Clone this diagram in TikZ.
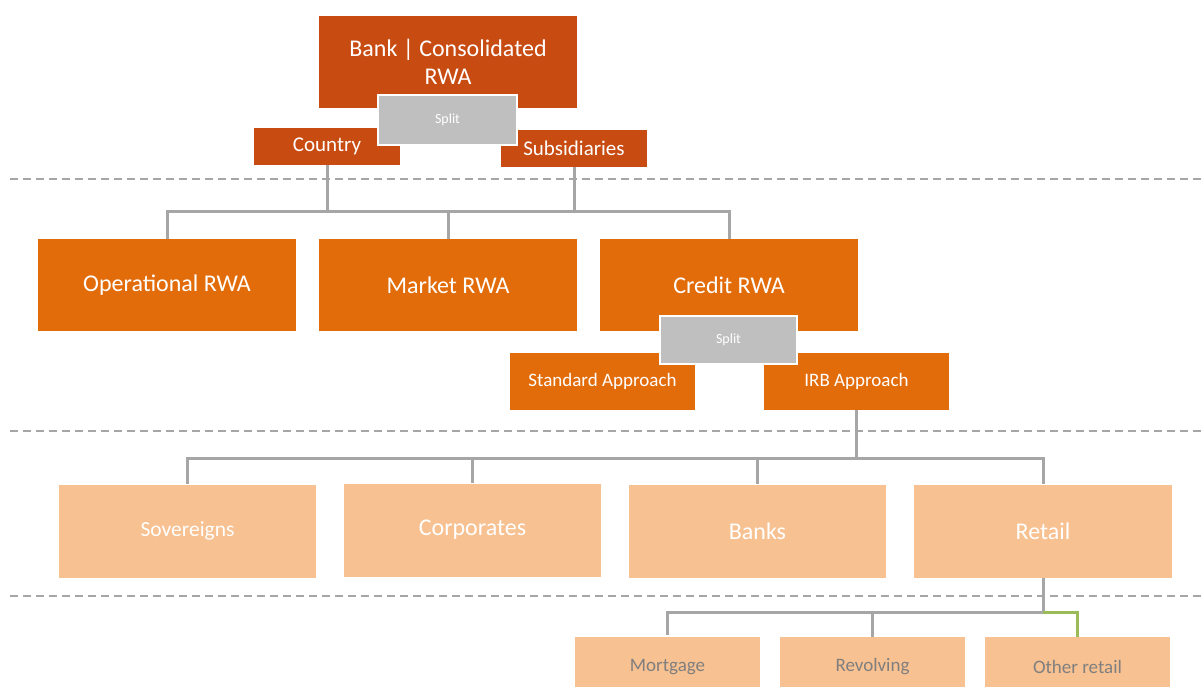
\documentclass[tikz,border=0pt]{standalone}
\usepackage{fontspec}
\setmainfont{Carlito}
\definecolor{rust}{HTML}{C84B11}
\definecolor{tangerine}{HTML}{E36C0A}
\definecolor{peach}{HTML}{F8C191}
\definecolor{splitgray}{HTML}{BFBFBF}
\definecolor{wire}{HTML}{A6A6A6}
\definecolor{leafgreen}{HTML}{9BBB59}
\definecolor{labelgray}{HTML}{7F7F7F}
\tikzset{
  blk/.style={inner sep=0pt, align=center, text=white},
  toprow/.style={blk, fill=rust, minimum width=258pt, minimum height=92pt, font=\fontsize{24}{28}\selectfont},
  subtop/.style={blk, fill=rust, minimum width=146pt, minimum height=37pt, font=\fontsize{21}{24}\selectfont},
  riskrow/.style={blk, fill=tangerine, minimum width=258pt, minimum height=92pt, font=\fontsize{24}{28}\selectfont},
  approach/.style={blk, fill=tangerine, minimum width=185pt, minimum height=57pt, font=\fontsize{19}{22}\selectfont},
  segment/.style={blk, fill=peach, minimum width=257pt, minimum height=93pt, font=\fontsize{24}{28}\selectfont},
  retailsub/.style={blk, fill=peach, text=labelgray, minimum width=185pt, minimum height=60pt, font=\fontsize{19}{22}\selectfont},
  splitbox/.style={blk, fill=splitgray, draw=white, line width=2pt, font=\fontsize{14}{16}\selectfont},
  conn/.style={draw=wire, line width=3pt},
  greenconn/.style={draw=leafgreen, line width=3pt},
  tierline/.style={draw=wire, line width=2pt, dash pattern=on 8pt off 5pt}
}
\begin{document}
\begin{tikzpicture}[x=1pt, y=-1pt]
  \useasboundingbox (0,0) rectangle (1203,686);

  % tier separators
  \coordinate (t1a) at (10,179);   \coordinate (t1b) at (1203,179);
  \coordinate (t2a) at (10,431);   \coordinate (t2b) at (1203,431);
  \coordinate (t3a) at (10,596);   \coordinate (t3b) at (1203,596);
  \draw[tierline] (t1a) -- (t1b);
  \draw[tierline] (t2a) -- (t2b);
  \draw[tierline] (t3a) -- (t3b);

  % level 1: consolidated bank
  \node[toprow] (bank) at (448,62) {Bank | Consolidated\\RWA};
  \node[subtop] (country) at (327,146.5) {Country};
  \node[subtop] (subs) at (574,148.5) {Subsidiaries};
  \node[splitbox, minimum width=139pt, minimum height=50pt] (split1) at (447.5,120) {Split};

  % level 2: risk types
  \node[riskrow] (oper) at (167,285) {Operational RWA};
  \node[riskrow] (market) at (448,285) {Market RWA};
  \node[riskrow] (credit) at (729,285) {Credit RWA};
  \node[approach] (std) at (602.5,381) {Standard Approach};
  \node[approach] (irb) at (856.5,381) {IRB Approach};
  \node[splitbox, minimum width=137pt, minimum height=48pt] (split2) at (728.5,340) {Split};

  % level 3: exposure classes
  \node[segment, font=\fontsize{21.5}{26}\selectfont] (sov) at (187.5,531) {Sovereigns};
  \node[segment] (corp) at (472.5,530) {Corporates};
  \node[segment] (banks) at (757.5,531) {Banks};
  \node[segment, minimum width=258pt] (retail) at (1043,531) {Retail};

  % level 4: retail sub-classes
  \node[retailsub] (mort) at (667.5,667) {Mortgage};
  \node[retailsub] (revol) at (872.5,667) {Revolving};
  \node[retailsub] (other) at (1077.5,667) {Other retail};

  % connectors level 1 -> level 2
  \coordinate (busA) at (0,211);
  \draw[conn] (country.south) -- (country.south |- busA) -| (oper.north);
  \draw[conn] (country.south |- busA) -| (credit.north);
  \draw[conn] (subs.south) -- (subs.south |- busA);
  \draw[conn] (market.north |- busA) -- (market.north);

  % connectors IRB -> exposure classes
  \coordinate (busB) at (0,458);
  \draw[conn] (irb.south) -- (irb.south |- busB) -| (sov.north);
  \draw[conn] (irb.south |- busB) -| (retail.north);
  \draw[conn] (corp.north |- busB) -- (corp.north);
  \draw[conn] (banks.north |- busB) -- (banks.north);

  % connectors retail -> sub-classes
  \coordinate (busC) at (0,612);
  \coordinate (mortend) at (667.5,635);
  \draw[conn] (retail.south) -- (retail.south |- busC) -| (mortend);
  \draw[conn] (revol.north |- busC) -- (revol.north);
  \draw[greenconn] (retail.south |- busC) -| (other.north);
\end{tikzpicture}
\end{document}
